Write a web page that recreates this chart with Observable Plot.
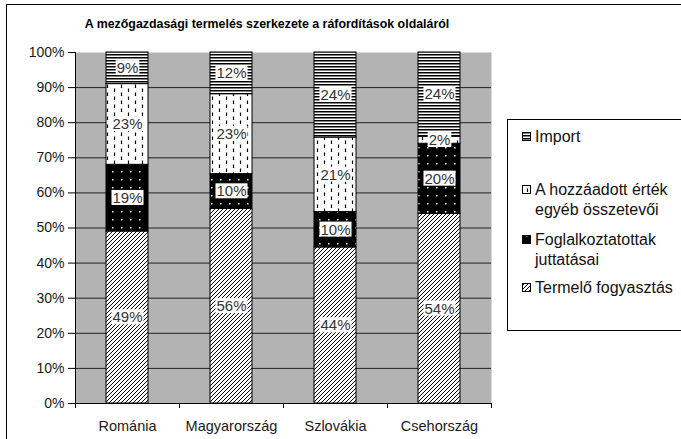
<!DOCTYPE html>
<html>
<head>
<meta charset="utf-8">
<script src="https://cdn.jsdelivr.net/npm/d3@7"></script>
<script src="https://cdn.jsdelivr.net/npm/@observablehq/plot@0.6"></script>
<style>
html,body{margin:0;padding:0;background:#fff;}
body{width:681px;height:439px;overflow:hidden;position:relative;font-family:Arial,"Liberation Sans",Helvetica,sans-serif;}
#chart{position:absolute;left:0;top:0;}
#legend{position:absolute;left:0;top:0;}
#title{position:absolute;left:0;top:18px;width:534px;text-align:center;font-size:12.4px;font-weight:bold;line-height:13px;color:#000;white-space:nowrap;}
#frame{position:absolute;left:6px;top:4px;width:900px;height:700px;border:1px solid #000;box-sizing:border-box;pointer-events:none;}
</style>
</head>
<body>
<div id="chart"></div>
<div id="legend"></div>
<div id="title">A mezőgazdasági termelés szerkezete a ráfordítások oldaláról</div>
<div id="frame"></div>
<script>
// ---- Data ----
const categories = ["Románia", "Magyarország", "Szlovákia", "Csehország"];
const seriesNames = ["Termelő fogyasztás", "Foglalkoztatottak juttatásai", "A hozzáadott érték egyéb összetevői", "Import"];
const termeloFogyasztas = [49, 56, 44, 54];
const foglalkoztatottakJuttatasai = [19, 10, 10, 20];
const hozzaadottErtekEgyeb = [23, 23, 21, 2];
const importShare = [9, 12, 24, 24];
const yTickValues = [0, 10, 20, 30, 40, 50, 60, 70, 80, 90, 100];
const yTickLabels = ["0%", "10%", "20%", "30%", "40%", "50%", "60%", "70%", "80%", "90%", "100%"];
const legendOrder = ["Import", "A hozzáadott érték egyéb összetevői", "Foglalkoztatottak juttatásai", "Termelő fogyasztás"];
const legendLines = [["Import"], ["A hozzáadott érték", "egyéb összetevői"], ["Foglalkoztatottak", "juttatásai"], ["Termelő fogyasztás"]];

const seriesValues = [termeloFogyasztas, foglalkoztatottakJuttatasai, hozzaadottErtekEgyeb, importShare];
const data = [];
categories.forEach((c, ci) => seriesNames.forEach((s, si) => {
  data.push({country: c, series: s, value: seriesValues[si][ci], label: seriesValues[si][ci] + "%"});
}));

const patternIds = ["pat-termelo", "pat-fogl", "pat-hozza", "pat-import"];

function defsMark() {
  const defs = d3.create("svg:defs");
  let p = defs.append("pattern").attr("id", patternIds[0]).attr("patternUnits", "userSpaceOnUse").attr("width", 4).attr("height", 4);
  p.append("rect").attr("width", 4).attr("height", 4).attr("fill", "#fff");
  p.append("path").attr("d", "M-1,1L1,-1M0,4L4,0M3,5L5,3").attr("stroke", "#000").attr("stroke-width", 1);

  p = defs.append("pattern").attr("id", patternIds[1]).attr("patternUnits", "userSpaceOnUse").attr("width", 9).attr("height", 8);
  p.append("rect").attr("width", 9).attr("height", 8).attr("fill", "#000");
  p.append("rect").attr("x", 4).attr("y", 3).attr("width", 1.5).attr("height", 1.5).attr("fill", "#fff");

  p = defs.append("pattern").attr("id", patternIds[2]).attr("patternUnits", "userSpaceOnUse").attr("width", 14).attr("height", 8);
  p.append("rect").attr("width", 14).attr("height", 8).attr("fill", "#fff");
  p.append("path").attr("d", "M2.5,0.5V4M9.5,4.5V8").attr("stroke", "#000").attr("stroke-width", 1.2);

  p = defs.append("pattern").attr("id", patternIds[3]).attr("patternUnits", "userSpaceOnUse").attr("width", 3).attr("height", 3);
  p.append("rect").attr("width", 3).attr("height", 3).attr("fill", "#fff");
  p.append("rect").attr("width", 3).attr("height", 1.5).attr("fill", "#000");
  return defs.node();
}

function axisLines(index, scales, values, dimensions) {
  const {width, height, marginLeft, marginRight, marginBottom, marginTop} = dimensions;
  const x = scales.x;
  const g = d3.create("svg:g").attr("stroke", "#000").attr("shape-rendering", "crispEdges");
  const y0 = height - marginBottom;
  g.append("line").attr("x1", marginLeft).attr("x2", marginLeft).attr("y1", marginTop).attr("y2", y0);
  g.append("line").attr("x1", marginLeft).attr("x2", width - marginRight).attr("y1", y0).attr("y2", y0);
  const bw = x.bandwidth(), step = x.step();
  const bounds = categories.map(c => x(c) + bw / 2 - step / 2);
  bounds.push(x(categories[categories.length - 1]) + bw / 2 + step / 2);
  for (const bx of bounds) g.append("line").attr("x1", bx).attr("x2", bx).attr("y1", y0).attr("y2", y0 + 5);
  return g.node();
}

const chart = Plot.plot({
  width: 681,
  height: 439,
  marginLeft: 75,
  marginRight: 190,
  marginTop: 52,
  marginBottom: 36,
  style: {background: "transparent", fontFamily: "Arial, 'Liberation Sans', sans-serif", color: "#1a1a1a", overflow: "visible"},
  x: {domain: categories, paddingInner: 0.6, paddingOuter: 0.3, align: 0.5},
  y: {domain: [0, 1]},
  color: {domain: seriesNames, range: patternIds.map(id => `url(#${id})`)},
  marks: [
    defsMark,
    Plot.frame({fill: "#b3b3b3", stroke: "none"}),
    Plot.ruleY(yTickValues.slice(1, -1), {y: d => d / 100, stroke: "#222", strokeWidth: 1}),
    Plot.barY(data, Plot.stackY({offset: "normalize", x: "country", y: "value", fill: "series", stroke: "#000", strokeWidth: 1})),
    Plot.text(data, Plot.stackY({offset: "normalize", x: "country", y: "value", z: "series", text: "label", fontSize: 15, fill: "#333"})),
    axisLines,
    Plot.axisY({
      ticks: yTickValues.map(v => v / 100),
      tickFormat: d => yTickLabels[yTickValues.indexOf(Math.round(d * 100))],
      tickSize: 7, tickPadding: 4, fontSize: 14, label: null, stroke: "#000"
    }),
    Plot.axisX({tickSize: 0, tickPadding: 17, fontSize: 14.5, label: null})
  ]
});
document.getElementById("chart").appendChild(chart);

// white boxes behind data labels
d3.select(chart).selectAll('g[aria-label="text"] text').each(function () {
  const b = this.getBBox();
  const rect = document.createElementNS("http://www.w3.org/2000/svg", "rect");
  rect.setAttribute("x", b.x - 1);
  rect.setAttribute("y", b.y + 1);
  rect.setAttribute("width", b.width + 2);
  rect.setAttribute("height", b.height - 2);
  rect.setAttribute("fill", "#fff");
  rect.setAttribute("stroke", "none");
  const t = this.getAttribute("transform");
  if (t) rect.setAttribute("transform", t);
  this.parentNode.insertBefore(rect, this);
});

// legend
const leg = d3.create("svg").attr("width", 681).attr("height", 439)
  .style("font-family", "Arial, 'Liberation Sans', sans-serif");
leg.append("rect").attr("x", 507.5).attr("y", 119.5).attr("width", 300).attr("height", 211)
  .attr("fill", "#fff").attr("stroke", "#000");
const legendBaselines = [142, 195, 245, 293];
const lineHeight = 20;
legendOrder.forEach((s, k) => {
  const si = seriesNames.indexOf(s);
  const base = legendBaselines[k];
  leg.append("rect").attr("x", 522.5).attr("y", base - 9.5).attr("width", 8).attr("height", 8)
    .attr("fill", `url(#${patternIds[si]})`).attr("stroke", "#000");
  legendLines[k].forEach((line, li) => {
    leg.append("text").attr("x", 535).attr("y", base + li * lineHeight)
      .attr("font-size", 16).attr("fill", "#111").text(line);
  });
});
document.getElementById("legend").appendChild(leg.node());
</script>
</body>
</html>
